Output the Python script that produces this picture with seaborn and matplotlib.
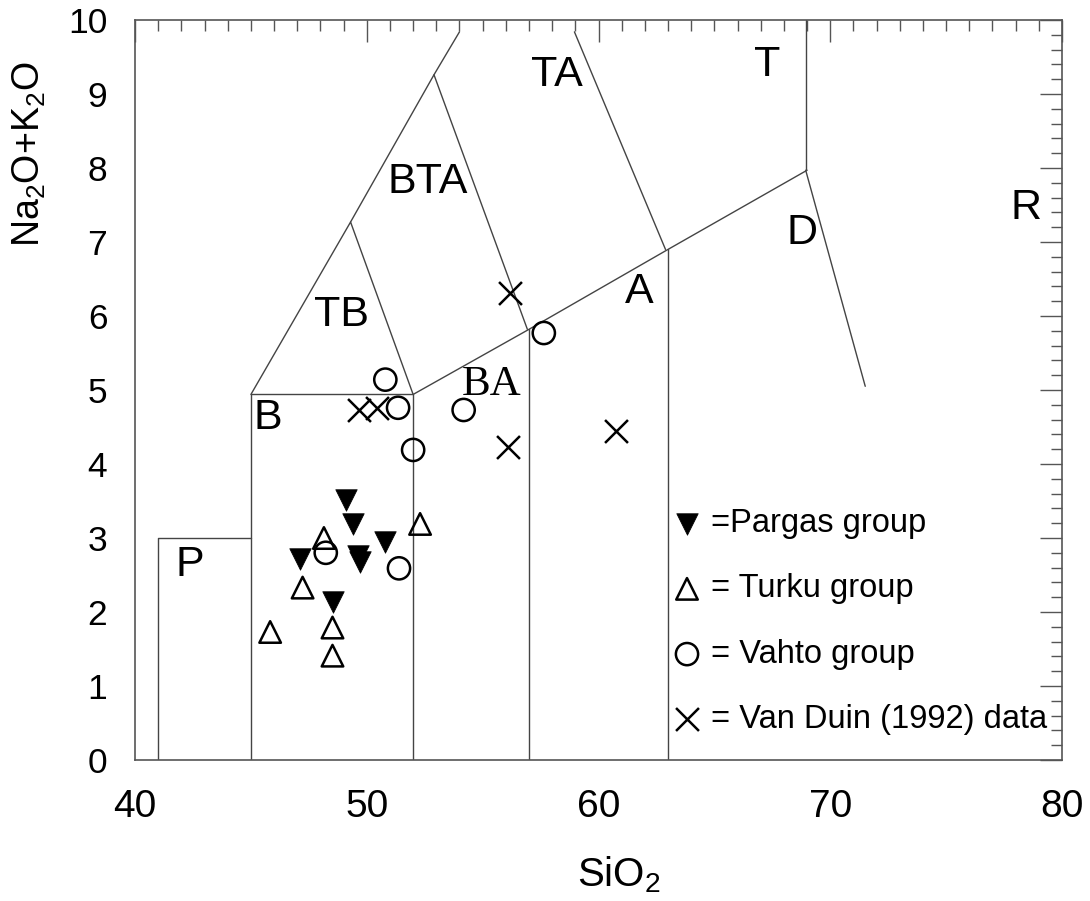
import numpy as np
import pandas as pd
import matplotlib
matplotlib.use("Agg")
import matplotlib.pyplot as plt
import seaborn as sns

# ---------------- data ----------------
pargas_sio2 = [49.12, 49.41, 50.79, 47.13, 49.62, 49.71, 48.53]
pargas_alk  = [3.51, 3.19, 2.94, 2.72, 2.75, 2.68, 2.14]

turku_sio2 = [48.15, 52.30, 47.23, 45.83, 48.52, 48.52]
turku_alk  = [3.00, 3.19, 2.33, 1.73, 1.79, 1.41]

vahto_sio2 = [48.23, 51.39, 50.80, 51.35, 52.00, 54.18, 57.64]
vahto_alk  = [2.80, 2.59, 5.14, 4.76, 4.19, 4.73, 5.77]

vanduin_sio2 = [49.66, 50.42, 56.19, 56.09, 60.75]
vanduin_alk  = [4.73, 4.75, 6.31, 4.23, 4.44]

group_labels = ["=Pargas group", "= Turku group", "= Vahto group",
                "= Van Duin (1992) data"]

# TAS field boundaries (SiO2, Na2O+K2O) as drawn in the figure
boundary_x = [
    [41, 41, 45],
    [45, 45, 52, 52],
    [52, 57, 63, 69],
    [57, 57],
    [63, 63],
    [45, 49.3, 52],
    [49.3, 52.9, 56.93],
    [52.9, 54.0],
    [58.96, 62.89],
    [68.94, 68.94],
    [68.94, 71.51],
]
boundary_y = [
    [0, 3.0, 3.0],
    [0, 4.94, 4.94, 0],
    [4.94, 5.82, 6.9, 7.97],
    [0, 5.82],
    [0, 6.9],
    [4.94, 7.27, 4.94],
    [7.27, 9.26, 5.82],
    [9.26, 9.84],
    [9.84, 6.9],
    [7.97, 10.0],
    [7.97, 5.05],
]

field_names = ["P", "B", "TB", "BTA", "TA", "T", "A", "D", "R"]
field_x = [42.37, 45.73, 48.92, 52.63, 58.19, 67.28, 61.77, 68.79, 78.45]
field_y = [2.64, 4.62, 6.01, 7.81, 9.26, 9.39, 6.32, 7.12, 7.46]
ba_name, ba_x, ba_y = "BA", 55.39, 5.07

# ---------------- style ----------------
sns.set_style("white")
plt.rcParams["font.family"] = ["Liberation Sans", "DejaVu Sans"]
plt.rcParams["mathtext.default"] = "regular"
plt.rcParams["text.color"] = "black"
plt.rcParams["axes.labelcolor"] = "black"

fig = plt.figure(figsize=(10.9, 9.01), dpi=100)
ax = fig.add_axes([0.1239, 0.1565, 0.8504, 0.8213])

line_col = "#444444"
for bx, by in zip(boundary_x, boundary_y):
    ax.plot(bx, by, color=line_col, lw=1.0, zorder=1)

ms = 15.5
lw = 1.8
sns.scatterplot(x=pargas_sio2, y=pargas_alk, marker="v", s=ms**2,
                color="black", edgecolor="black", linewidth=0.5,
                label=group_labels[0], ax=ax, zorder=3)
sns.scatterplot(x=turku_sio2, y=turku_alk, marker="^", s=ms**2,
                facecolor="none", edgecolor="black", linewidth=lw,
                label=group_labels[1], ax=ax, zorder=3)
sns.scatterplot(x=vahto_sio2, y=vahto_alk, marker="o", s=(ms + 0.5)**2,
                facecolor="none", edgecolor="black", linewidth=lw,
                label=group_labels[2], ax=ax, zorder=3)
sns.scatterplot(x=vanduin_sio2, y=vanduin_alk, marker="x", s=(ms + 1)**2,
                color="black", linewidth=lw,
                label=group_labels[3], ax=ax, zorder=3)

for name, fx, fy in zip(field_names, field_x, field_y):
    ax.text(fx, fy, name, fontsize=31, ha="center", va="center", zorder=2)
ax.text(ba_x, ba_y, ba_name, fontsize=31, ha="center", va="center",
        family=["Liberation Serif", "DejaVu Serif"], zorder=2)

leg = ax.legend(loc="upper left", bbox_to_anchor=(0.562, 0.358),
                frameon=False, fontsize=23.5, labelspacing=1.05,
                handletextpad=0.2, handlelength=1.1, borderaxespad=0)
for t in leg.get_texts():
    t.set_color("black")

ax.set_xlim(40, 80)
ax.set_ylim(0, 10)
ax.set_xticks(np.arange(40, 81, 10))
ax.set_yticks(np.arange(0, 11, 1))
ax.set_xticks(np.arange(40, 81, 1), minor=True)
ax.set_yticks(np.arange(0, 10.01, 0.2), minor=True)
ax.tick_params(which="both", direction="in", top=True, right=True,
               color="#555555", width=1.0, labelcolor="black")
ax.tick_params(which="major", length=15.5)
ax.tick_params(axis="x", which="major", pad=21, labelsize=28)
ax.tick_params(axis="y", which="major", pad=20, labelsize=25.5)
ax.tick_params(which="minor", length=8)
for sp in ax.spines.values():
    sp.set_color("#555555")
    sp.set_linewidth(1.2)

ax.set_xlabel("SiO$_2$", fontsize=29)
ax.set_ylabel("Na$_2$O+K$_2$O", fontsize=27)
ax.xaxis.set_label_coords(0.522, -0.128)
ax.yaxis.set_label_coords(-0.094, 0.818)

fig.savefig("out.png", dpi=100)
